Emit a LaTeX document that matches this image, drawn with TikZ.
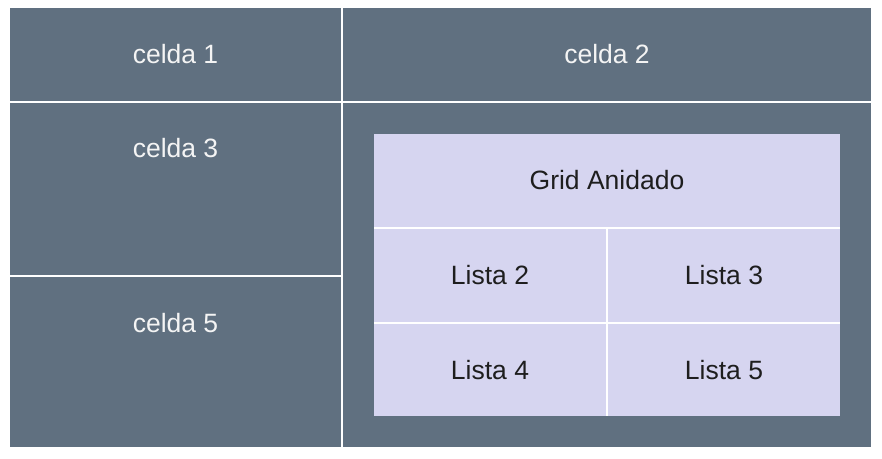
\documentclass[tikz,border=0pt]{standalone}
\usepackage{fontspec}
\setmainfont{Liberation Sans}
\definecolor{slate}{HTML}{607080}
\definecolor{lav}{HTML}{D6D5F0}
\definecolor{darktxt}{HTML}{1E1E1E}
\definecolor{lighttxt}{HTML}{F4F4F4}
\tikzset{
  cellbox/.style={rectangle, fill=slate, draw=none, inner sep=0pt, outer sep=0pt,
    text=lighttxt, font=\fontsize{26.5}{30}\selectfont},
  subbox/.style={rectangle, fill=lav, draw=none, inner sep=0pt, outer sep=0pt,
    text=darktxt, font=\fontsize{26.5}{30}\selectfont},
  celltext/.style={inner sep=0pt, text=lighttxt, font=\fontsize{26.5}{30}\selectfont},
  gridback/.style={rectangle, fill=white, draw=none, inner sep=0pt, outer sep=0pt},
}
\begin{document}
\begin{tikzpicture}[x=1pt,y=-1pt]
\useasboundingbox[fill=white] (0,0) rectangle (882,458);
% main grid cells (gaps of 2px show the white lines)
\node[cellbox, minimum width=331pt, minimum height=93pt] (c1) at (175.5,54.5) {celda 1};
\node[cellbox, minimum width=528pt, minimum height=93pt] (c2) at (607,54.5) {celda 2};
\node[cellbox, minimum width=331pt, minimum height=172pt] (c3) at (175.5,189) {};
\node[cellbox, minimum width=331pt, minimum height=170pt] (c5) at (175.5,362) {};
\node[cellbox, minimum width=528pt, minimum height=344pt] (c4) at (607,275) {};
\node[celltext] (t3) at (175.5,148) {celda 3};
\node[celltext] (t5) at (175.5,323) {celda 5};
% nested grid (white backing shows as the inner lines)
\node[gridback, minimum width=466pt, minimum height=282pt] (nest) at (607,275) {};
\node[subbox, minimum width=466pt, minimum height=93pt] (g) at (607,180.5) {Grid Anidado};
\node[subbox, minimum width=232pt, minimum height=93pt] (l2) at (490,275.5) {Lista 2};
\node[subbox, minimum width=232pt, minimum height=93pt] (l3) at (724,275.5) {Lista 3};
\node[subbox, minimum width=232pt, minimum height=92pt] (l4) at (490,370) {Lista 4};
\node[subbox, minimum width=232pt, minimum height=92pt] (l5) at (724,370) {Lista 5};
\end{tikzpicture}
\end{document}
